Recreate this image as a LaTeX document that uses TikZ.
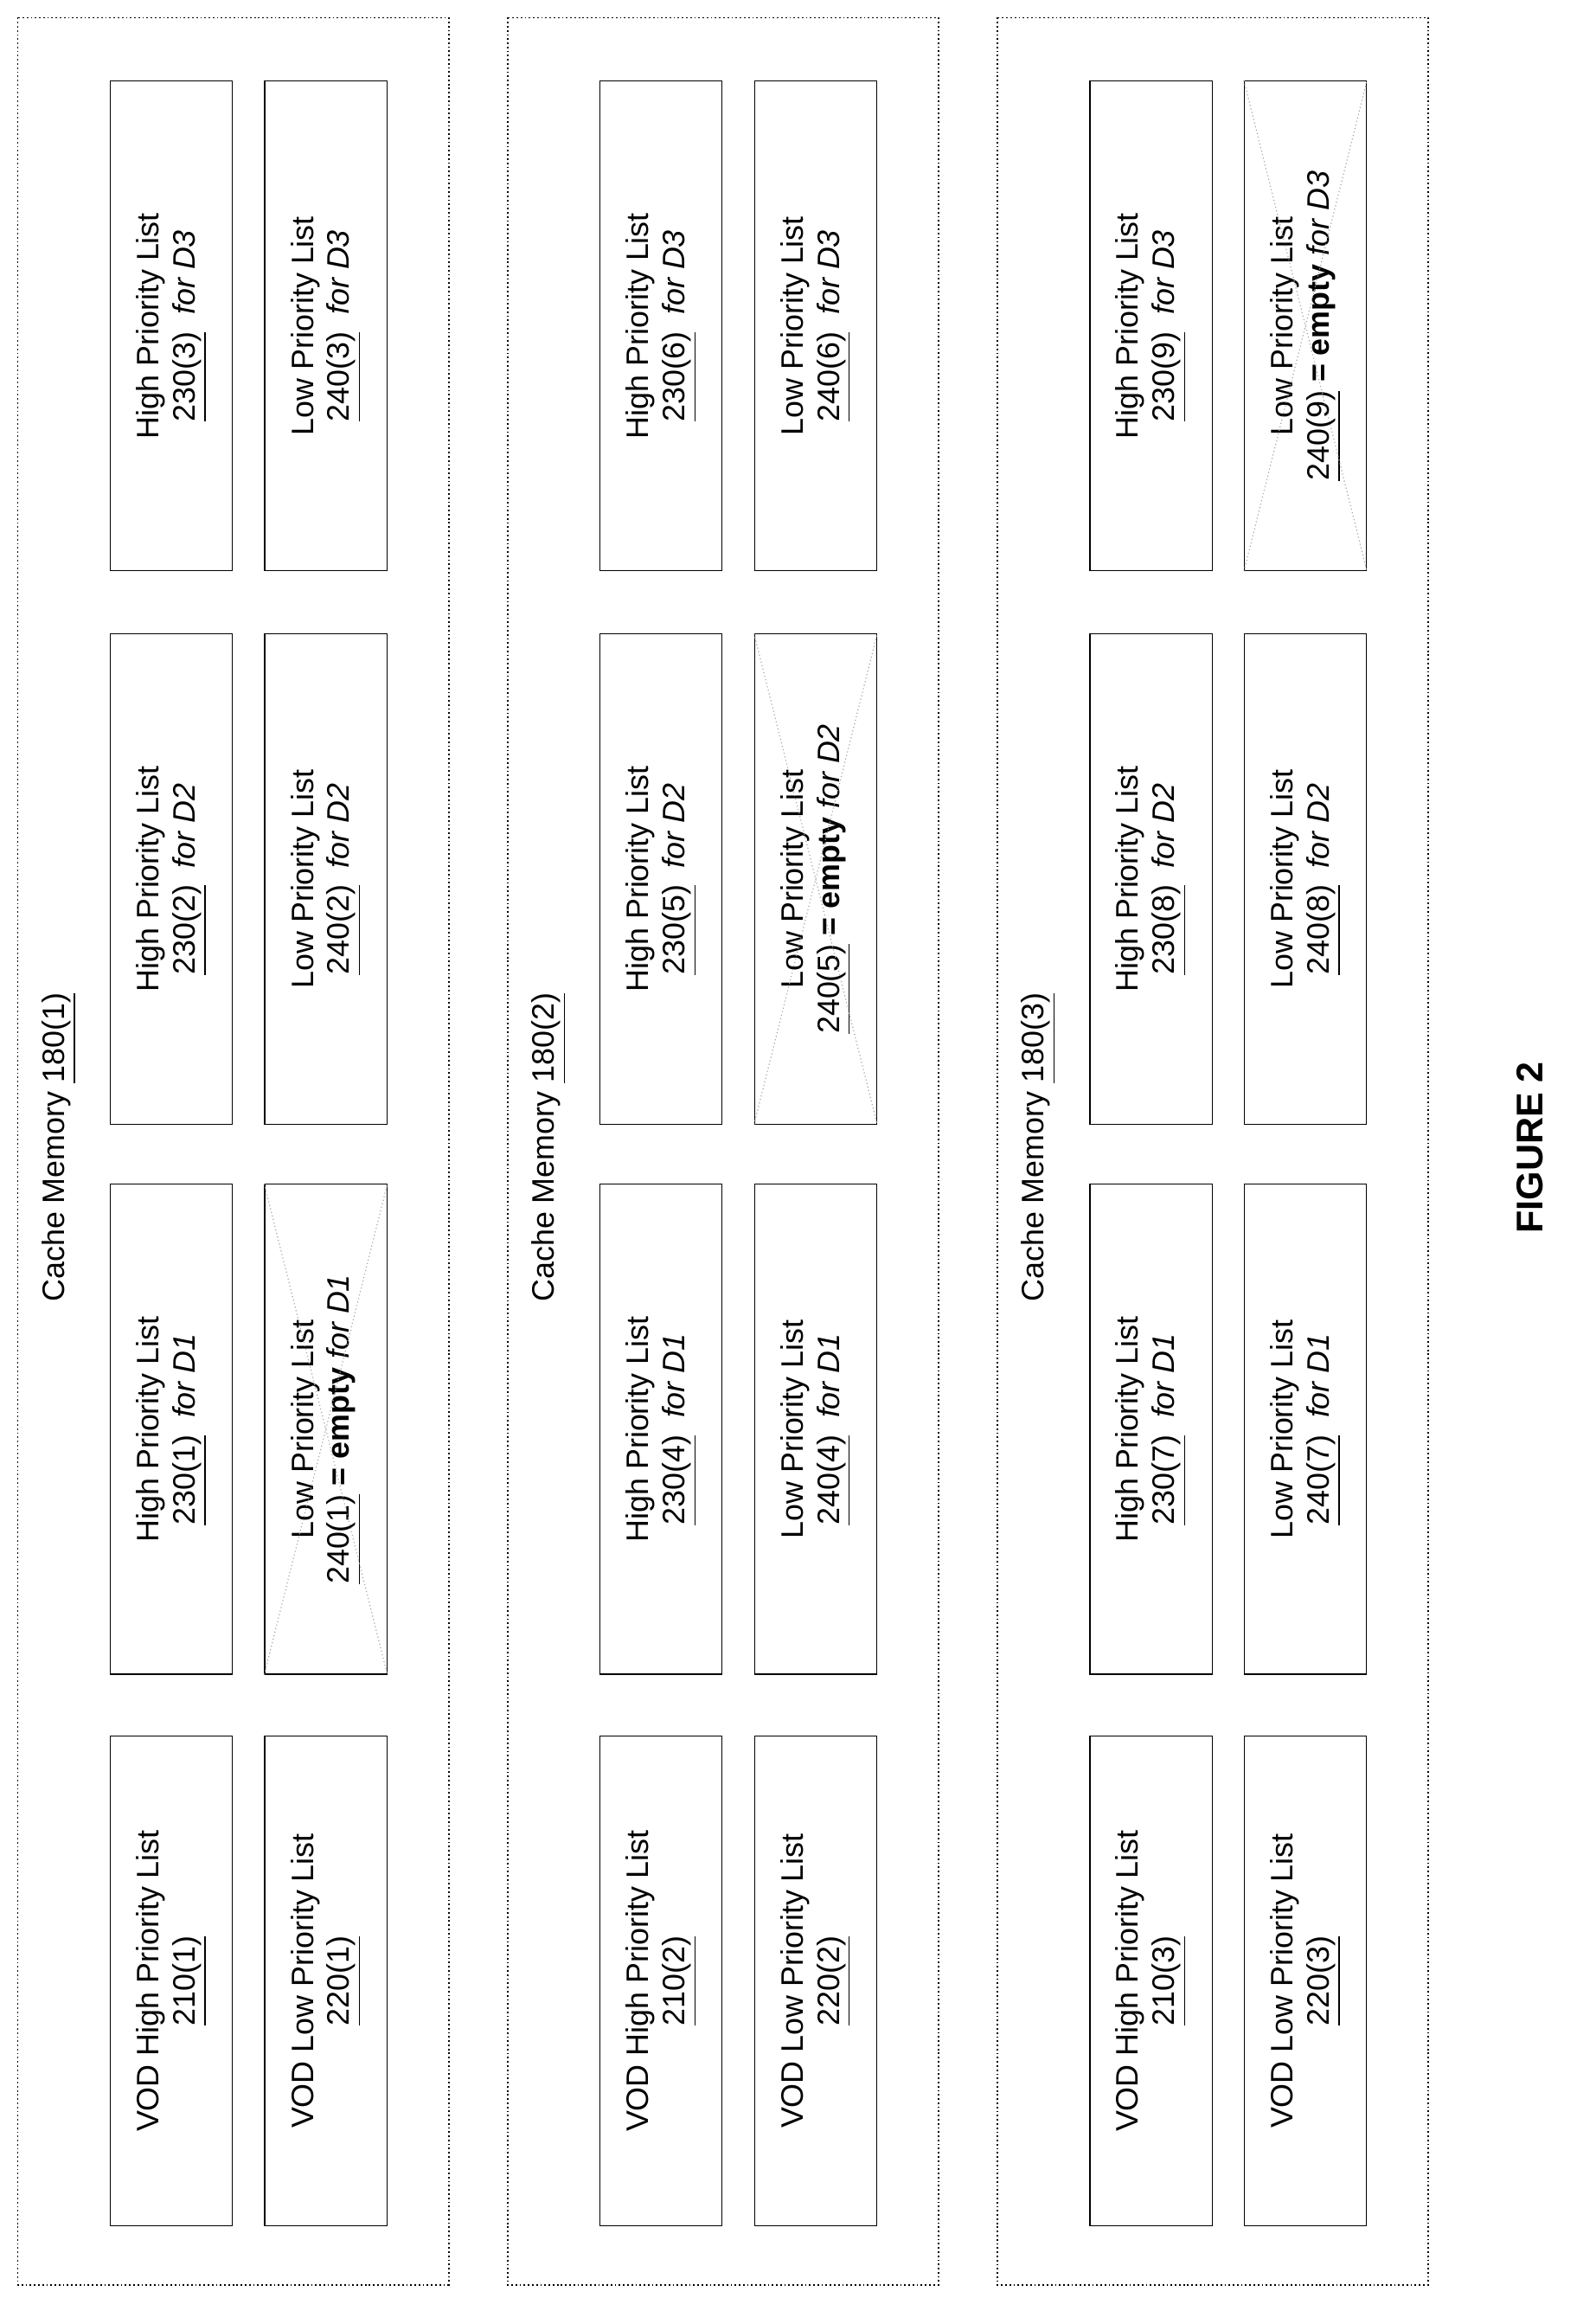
\documentclass[tikz,border=0pt]{standalone}
\usepackage{fontspec}
\setmainfont{Liberation Sans}
\usepackage{tikz}
\usetikzlibrary{positioning,calc}

\begin{document}
\begin{tikzpicture}[x=0.2mm,y=-0.2mm,
    panel/.style={draw,densely dotted,line width=0.6pt},
    list/.style={rectangle,draw,rotate=90,align=center,minimum width=333*0.2mm,minimum height=83*0.2mm,inner sep=2pt,font=\large},
    cross/.style={draw=gray!70,densely dotted,line width=0.4pt}]
    \useasboundingbox (0,0) rectangle (1085,1562);

    \foreach \p/\xo in {1/0,2/333,3/666}{
        \pgfmathtruncatemacro{\da}{3*\p-2}
        \pgfmathtruncatemacro{\db}{3*\p-1}
        \pgfmathtruncatemacro{\dc}{3*\p}
        % Panel frame
        \draw[panel] (\xo+12,12) rectangle (\xo+305,1553);
        \node[rotate=90,font=\large] (cache\p) at (\xo+40,780) {Cache Memory \underline{180(\p)}};

        % VOD lists
        \node[list] (vodhi\p) at (\xo+116.5,1346.5) {VOD High Priority List\\\underline{210(\p)}};
        \node[list] (vodlo\p) at (\xo+221.5,1346.5) {VOD Low Priority List\\\underline{220(\p)}};

        % Per disk lists
        \foreach \d/\n/\yc in {1/\da/971.5,2/\db/597.5,3/\dc/221.5}{
            \node[list] (hi\p\d) at (\xo+116.5,\yc) {High Priority List\\\underline{230(\n)}~~\textit{for D\d}};
            \ifnum\d=\p
                \node[list] (lo\p\d) at (\xo+221.5,\yc) {Low Priority List\\\underline{240(\n)} \textbf{= empty} \textit{for D\d}};
                \draw[cross] (lo\p\d.north west) -- (lo\p\d.south east);
                \draw[cross] (lo\p\d.north east) -- (lo\p\d.south west);
            \else
                \node[list] (lo\p\d) at (\xo+221.5,\yc) {Low Priority List\\\underline{240(\n)}~~\textit{for D\d}};
            \fi
        }
    }

    % Caption
    \node[rotate=90,font=\Large\bfseries] (caption) at (1040,780) {FIGURE 2};
\end{tikzpicture}
\end{document}
